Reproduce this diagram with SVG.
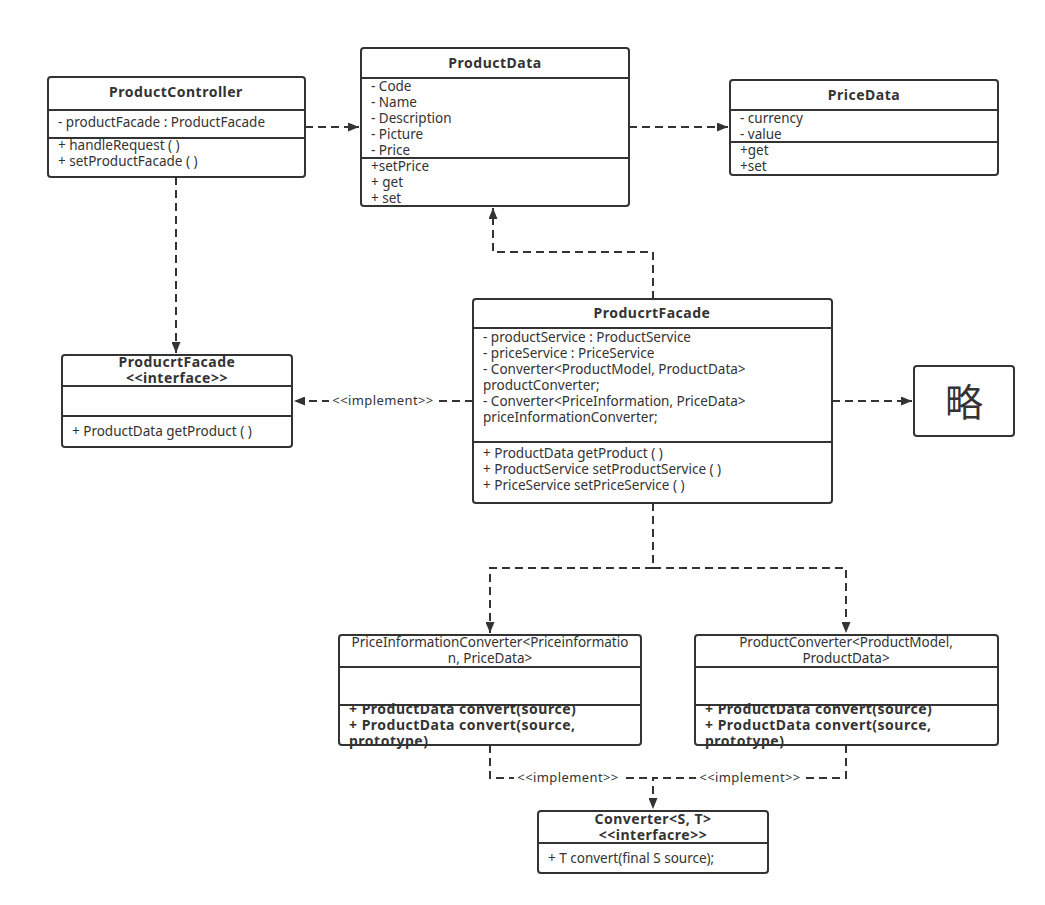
<svg xmlns="http://www.w3.org/2000/svg" width="1045" height="905" viewBox="0 0 1045 905">
<style>
.box{fill:#fff;stroke:#333;stroke-width:2}
.ln{stroke:#333;stroke-width:2}
.t{font-family:"Noto Sans","Noto Sans CJK SC",sans-serif;font-size:13.5px;fill:#333}
.b{font-weight:bold;font-size:14px;letter-spacing:0.5px}
.c{text-anchor:middle}
.e{stroke:#333;stroke-width:2;fill:none;stroke-dasharray:8,5}
.lbl{font-family:"Noto Sans",sans-serif;font-size:13px;fill:#333;text-anchor:middle;letter-spacing:0.4px}
</style>
<defs>
<marker id="ar" viewBox="0 0 10 10" refX="10" refY="5" markerWidth="11" markerHeight="9" markerUnits="userSpaceOnUse" orient="auto" preserveAspectRatio="none">
<path d="M0,0 L10,5 L0,10 z" fill="#333"/>
</marker>
</defs>
<rect width="1045" height="905" fill="#fff"/>
<g id="connectors">
<path class="e" d="M305,127 H359" marker-end="url(#ar)"/>
<path class="e" d="M629,127 H728" marker-end="url(#ar)"/>
<path class="e" d="M176,177 V353" marker-end="url(#ar)"/>
<path class="e" d="M653,299 V252 H493 V208" marker-end="url(#ar)"/>
<path class="e" d="M473,401 H294" marker-end="url(#ar)"/>
<path class="e" d="M832,401 H912" marker-end="url(#ar)"/>
<path class="e" d="M653,503 V568 H490 V633" marker-end="url(#ar)"/>
<path class="e" d="M653,568 H846 V633" marker-end="url(#ar)"/>
<path class="e" d="M490,745 V778 H653" />
<path class="e" d="M846,745 V778 H653 V809" marker-end="url(#ar)"/>
<rect x="329" y="393" width="108" height="16" fill="#fff"/>
<text class="lbl" x="383" y="405">&lt;&lt;implement&gt;&gt;</text>
<rect x="514" y="770" width="108" height="16" fill="#fff"/>
<text class="lbl" x="568" y="782">&lt;&lt;implement&gt;&gt;</text>
<rect x="696" y="770" width="108" height="16" fill="#fff"/>
<text class="lbl" x="750" y="782">&lt;&lt;implement&gt;&gt;</text>
</g>
<g id="ProductController">
<rect class="box" x="48" y="77" width="257" height="100" rx="3"/>
<line class="ln" x1="48" y1="110" x2="305" y2="110"/>
<line class="ln" x1="48" y1="138" x2="305" y2="138"/>
<text class="t b c" x="176" y="97">ProductController</text>
<text class="t" x="58" y="127">- productFacade : ProductFacade</text>
<text class="t" x="58" y="150">+ handleRequest ( )</text>
<text class="t" x="58" y="166">+ setProductFacade ( )</text>
</g>
<g id="ProductData">
<rect class="box" x="361" y="48" width="268" height="158" rx="3"/>
<line class="ln" x1="361" y1="78" x2="629" y2="78"/>
<line class="ln" x1="361" y1="158" x2="629" y2="158"/>
<text class="t b c" x="495" y="68">ProductData</text>
<text class="t" x="371" y="91">- Code</text>
<text class="t" x="371" y="107">- Name</text>
<text class="t" x="371" y="123">- Description</text>
<text class="t" x="371" y="139">- Picture</text>
<text class="t" x="371" y="155">- Price</text>
<text class="t" x="371" y="171">+setPrice</text>
<text class="t" x="371" y="187">+ get</text>
<text class="t" x="371" y="203">+ set</text>
</g>
<g id="PriceData">
<rect class="box" x="730" y="80" width="268" height="95" rx="3"/>
<line class="ln" x1="730" y1="110" x2="998" y2="110"/>
<line class="ln" x1="730" y1="142" x2="998" y2="142"/>
<text class="t b c" x="864" y="100">PriceData</text>
<text class="t" x="740" y="123">- currency</text>
<text class="t" x="740" y="139">- value</text>
<text class="t" x="740" y="155">+get</text>
<text class="t" x="740" y="171">+set</text>
</g>
<g id="ProducrtFacadeInterface">
<rect class="box" x="62" y="355" width="230" height="92" rx="3"/>
<line class="ln" x1="62" y1="386" x2="292" y2="386"/>
<line class="ln" x1="62" y1="416" x2="292" y2="416"/>
<text class="t b c" x="177" y="367">ProducrtFacade</text>
<text class="t b c" x="177" y="383">&lt;&lt;interface&gt;&gt;</text>
<text class="t" x="72" y="436">+ ProductData getProduct ( )</text>
</g>
<g id="ProducrtFacade">
<rect class="box" x="473" y="299" width="359" height="204" rx="3"/>
<line class="ln" x1="473" y1="328" x2="832" y2="328"/>
<line class="ln" x1="473" y1="442" x2="832" y2="442"/>
<text class="t b c" x="652" y="318">ProducrtFacade</text>
<text class="t" x="483" y="342">- productService : ProductService</text>
<text class="t" x="483" y="358">- priceService : PriceService</text>
<text class="t" x="483" y="374">- Converter&lt;ProductModel, ProductData&gt;</text>
<text class="t" x="483" y="390">productConverter;</text>
<text class="t" x="483" y="406">- Converter&lt;PriceInformation, PriceData&gt;</text>
<text class="t" x="483" y="422">priceInformationConverter;</text>
<text class="t" x="483" y="458">+ ProductData getProduct ( )</text>
<text class="t" x="483" y="474">+ ProductService setProductService ( )</text>
<text class="t" x="483" y="490">+ PriceService setPriceService ( )</text>
</g>
<g id="Omitted">
<rect class="box" x="914" y="366" width="100" height="70" rx="3"/>
<text class="c" x="964" y="416" style="font-family:'Noto Sans CJK SC',sans-serif;font-size:38px;fill:#333">略</text>
</g>
<g id="PriceInformationConverter">
<rect class="box" x="339" y="635" width="302" height="110" rx="3"/>
<line class="ln" x1="339" y1="667" x2="641" y2="667"/>
<line class="ln" x1="339" y1="705" x2="641" y2="705"/>
<text class="t c" x="490" y="647">PriceInformationConverter&lt;Priceinformatio</text>
<text class="t c" x="490" y="663">n, PriceData&gt;</text>
<text class="t b" x="349" y="714">+ ProductData convert(source)</text>
<text class="t b" x="349" y="730">+ ProductData convert(source,</text>
<text class="t b" x="349" y="746">prototype)</text>
</g>
<g id="ProductConverter">
<rect class="box" x="695" y="635" width="303" height="110" rx="3"/>
<line class="ln" x1="695" y1="667" x2="998" y2="667"/>
<line class="ln" x1="695" y1="705" x2="998" y2="705"/>
<text class="t c" x="846" y="647">ProductConverter&lt;ProductModel,</text>
<text class="t c" x="846" y="663">ProductData&gt;</text>
<text class="t b" x="705" y="714">+ ProductData convert(source)</text>
<text class="t b" x="705" y="730">+ ProductData convert(source,</text>
<text class="t b" x="705" y="746">prototype)</text>
</g>
<g id="Converter">
<rect class="box" x="538" y="811" width="230" height="62" rx="3"/>
<line class="ln" x1="538" y1="843" x2="768" y2="843"/>
<text class="t b c" x="653" y="824">Converter&lt;S, T&gt;</text>
<text class="t b c" x="653" y="840">&lt;&lt;interfacre&gt;&gt;</text>
<text class="t" x="548" y="863">+ T convert(final S source);</text>
</g>
</svg>
